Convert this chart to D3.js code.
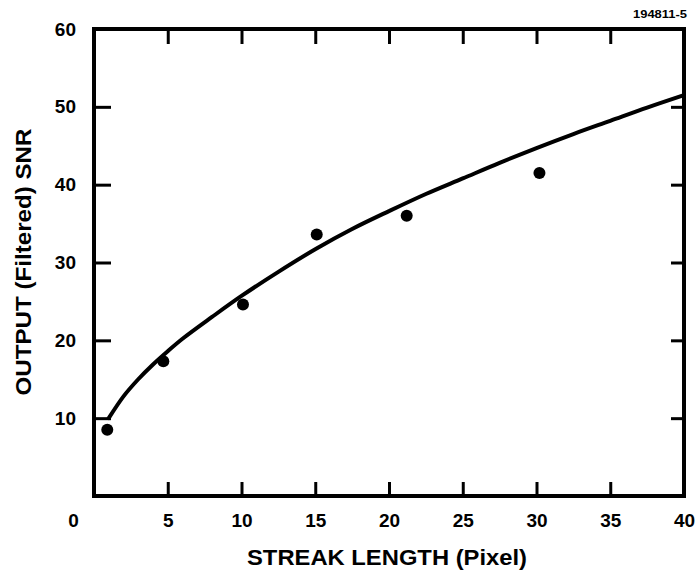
<!DOCTYPE html>
<html>
<head>
<meta charset="utf-8">
<script src="https://cdn.jsdelivr.net/npm/d3@7"></script>
<style>
  body { margin: 0; background: #fff; }
  text { font-family: "Liberation Sans", Arial, sans-serif; font-weight: bold; fill: #000; }
</style>
</head>
<body>
<div id="chart"></div>
<script>
// measured points (streak length, output SNR)
var pointX = [0.9, 4.7, 10.1, 15.1, 21.2, 30.2];
var pointY = [8.5, 17.3, 24.6, 33.6, 36.0, 41.5];

// fitted curve
var curveX = [1, 2, 3, 4, 5, 6, 8, 10, 12.5, 15, 17.5, 20, 22.5, 25, 27.5, 30, 32.5, 35, 37.5, 40];
var curveY = [10.0, 12.8, 15.0, 16.9, 18.6, 20.2, 23.0, 25.7, 28.8, 31.7, 34.3, 36.6, 38.8, 40.8, 42.8, 44.7, 46.5, 48.2, 49.9, 51.5];

var xTicks = [0, 5, 10, 15, 20, 25, 30, 35, 40];
var yTicks = [10, 20, 30, 40, 50, 60];

var W = 697, H = 571;
var margin = { top: 29, right: 13, bottom: 75, left: 94 };
var width = W - margin.left - margin.right,
    height = H - margin.top - margin.bottom;

var svg = d3.select('#chart').append('svg')
  .attr('width', W).attr('height', H);

var g = svg.append('g')
  .attr('transform', 'translate(' + margin.left + ',' + margin.top + ')');

var x = d3.scaleLinear().domain([0, 40]).range([0, width]);
var y = d3.scaleLinear().domain([0, 60]).range([height, 0]);

// bottom axis with labels
var xAxis = d3.axisBottom(x).tickValues(xTicks).tickSizeInner(-14).tickSizeOuter(0).tickPadding(18);
var xg = g.append('g').attr('transform', 'translate(0,' + height + ')').call(xAxis);
xg.selectAll('text').style('font-size', '19px').attr('fill', '#000');
// the "0" sits off to the left, under the y labels
xg.selectAll('.tick').filter(function (d) { return d === 0; }).select('text').attr('x', -21);

// left axis with labels
var yAxis = d3.axisLeft(y).tickValues(yTicks).tickSizeInner(-17).tickSizeOuter(0).tickPadding(18);
var yg = g.append('g').call(yAxis);
yg.selectAll('text').style('font-size', '19px').attr('fill', '#000');

// top and right: ticks only
g.append('g').call(d3.axisTop(x).tickValues(xTicks.slice(1, -1)).tickSizeInner(-15).tickSizeOuter(0).tickFormat(''));
g.append('g').attr('transform', 'translate(' + width + ',0)')
  .call(d3.axisRight(y).tickValues(yTicks.slice(0, -1)).tickSizeInner(-13).tickSizeOuter(0).tickFormat(''));

g.selectAll('.domain').remove();
g.selectAll('.tick line').attr('stroke', '#000').attr('stroke-width', 3);

// frame
g.append('rect')
  .attr('x', 0).attr('y', 0)
  .attr('width', width).attr('height', height)
  .attr('fill', 'none').attr('stroke', '#000').attr('stroke-width', 4);

// curve
var curveData = curveX.map(function (d, i) { return [d, curveY[i]]; });
var line = d3.line()
  .x(function (d) { return x(d[0]); })
  .y(function (d) { return y(d[1]); })
  .curve(d3.curveCatmullRom);
g.append('path').datum(curveData)
  .attr('d', line)
  .attr('fill', 'none').attr('stroke', '#000').attr('stroke-width', 4)
  .attr('stroke-linecap', 'round');

// points
var pts = pointX.map(function (d, i) { return [d, pointY[i]]; });
g.selectAll('circle.pt').data(pts).enter().append('circle')
  .attr('class', 'pt')
  .attr('cx', function (d) { return x(d[0]); })
  .attr('cy', function (d) { return y(d[1]); })
  .attr('r', 6).attr('fill', '#000');

// axis titles
svg.append('text')
  .attr('x', margin.left + width / 2 - 2).attr('y', 565)
  .attr('text-anchor', 'middle')
  .attr('textLength', 280).attr('lengthAdjust', 'spacingAndGlyphs')
  .style('font-size', '22px')
  .text('STREAK LENGTH (Pixel)');

svg.append('text')
  .attr('transform', 'translate(31,262) rotate(-90)')
  .attr('text-anchor', 'middle')
  .attr('textLength', 267).attr('lengthAdjust', 'spacingAndGlyphs')
  .style('font-size', '22px')
  .text('OUTPUT (Filtered) SNR');

// figure id
svg.append('text')
  .attr('x', 687).attr('y', 18)
  .attr('text-anchor', 'end')
  .attr('textLength', 54).attr('lengthAdjust', 'spacingAndGlyphs')
  .style('font-size', '10px')
  .text('194811-5');
</script>
</body>
</html>
